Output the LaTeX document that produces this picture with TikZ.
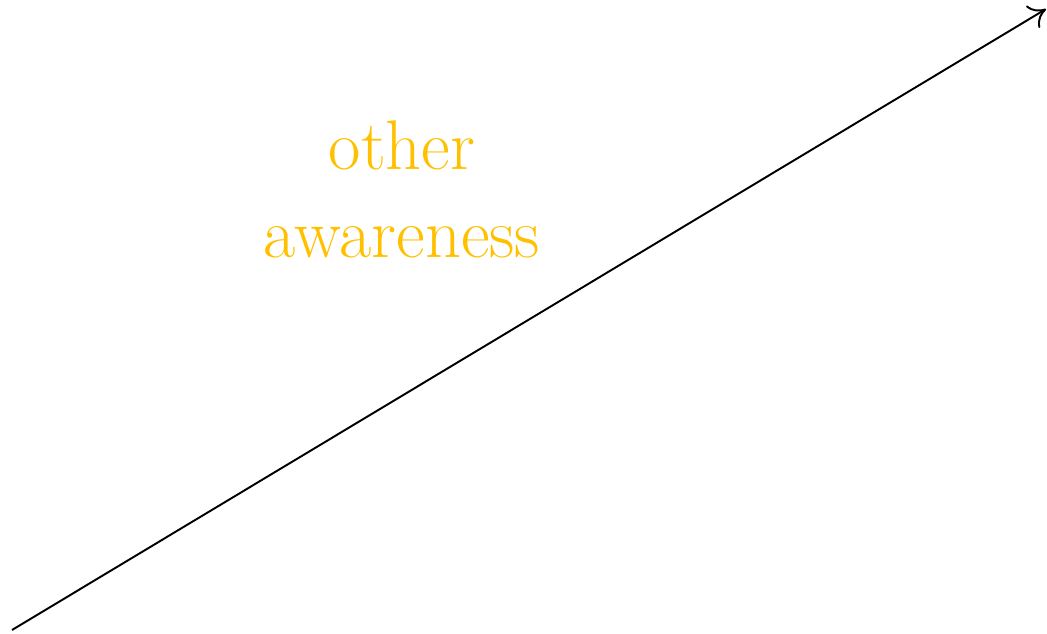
\documentclass[tikz,border=0pt]{standalone}
\usepackage{tikz}
\usepackage{xcolor}
\usetikzlibrary{arrows.meta,positioning}
\definecolor{ink}{HTML}{000000}
\definecolor{awareGold}{HTML}{FFC000}
\tikzset{
  % --- axis --------------------------------------------------------------
  axisline/.style  = {draw=ink, line width=1.1pt,
                      -{To[length=3.2mm,width=5.2mm]}},
  % --- labels -------------------------------------------------------------
  bigword/.style   = {text=awareGold, align=center,
                      font=\fontsize{40}{50}\selectfont},
}

\begin{document}
\begin{tikzpicture}

\useasboundingbox (0,0) rectangle (20.94,12.66);

% ============================ the diagonal axis ============================
\coordinate (low)  at (0.24,0.06);
\coordinate (high) at (20.92,12.48);
\draw[axisline] (low) -- (high);

% ================================ label ====================================
\node[bigword] (other) at (8.04,8.88) {other\\awareness};

\end{tikzpicture}
\end{document}
